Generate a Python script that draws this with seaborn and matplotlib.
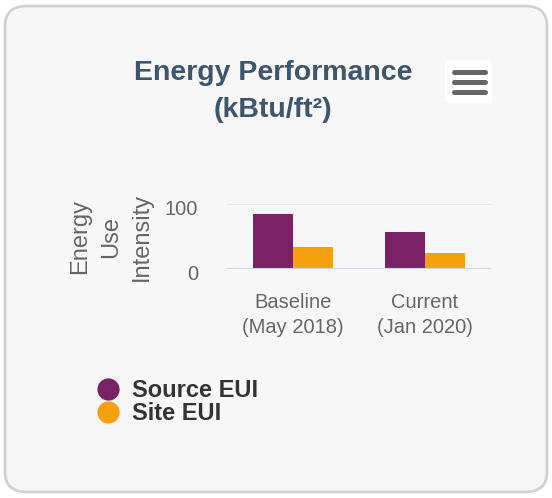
import pandas as pd
import numpy as np
import seaborn as sns
import matplotlib.pyplot as plt
from matplotlib.patches import FancyBboxPatch
from matplotlib.lines import Line2D
from matplotlib.transforms import ScaledTranslation

# data
periods = ["Baseline\n(May 2018)", "Current\n(Jan 2020)"]
source_eui = [86, 58]
site_eui = [34, 26]
series_names = ["Source EUI", "Site EUI"]
series_colors = ["#7a2265", "#f5a00c"]

df = pd.DataFrame({
    "period": periods * 2,
    "eui": source_eui + site_eui,
    "series": [series_names[0]] * 2 + [series_names[1]] * 2,
})

sns.set_style("white")
plt.rcParams["font.family"] = ["Liberation Sans", "DejaVu Sans"]

fig = plt.figure(figsize=(5.52, 4.98), dpi=100)
fig.patch.set_facecolor("white")

# card background
W, H = 552, 498
card = FancyBboxPatch((5 / W, 6 / H), 542 / W, 486 / H,
                      boxstyle="round,pad=0,rounding_size=0.04",
                      transform=fig.transFigure, facecolor="#f7f7f7",
                      edgecolor="#cdd2d5", linewidth=2.0, zorder=-2)
fig.patches.append(card)

# menu button
btn = FancyBboxPatch((445 / W, 1 - 103 / H), 47 / W, 43 / H,
                     boxstyle="round,pad=0,rounding_size=0.008",
                     transform=fig.transFigure, facecolor="white",
                     edgecolor="none", zorder=-1)
fig.patches.append(btn)
for yy in [72, 82, 92]:
    fig.add_artist(Line2D([454 / W, 485 / W], [1 - yy / H, 1 - yy / H],
                          color="#666666", linewidth=3.6,
                          solid_capstyle="round", transform=fig.transFigure))

# title
title_color = "#3d566e"
fig.text(273 / W, 1 - 80 / H, "Energy Performance", ha="center", va="baseline",
         fontsize=20.5, fontweight="bold", color=title_color)
fig.text(273 / W, 1 - 117 / H, "(kBtu/ft²)", ha="center", va="baseline",
         fontsize=20.5, fontweight="bold", color=title_color)

# plot area
ax = fig.add_axes([227.3 / W, 1 - 269.5 / H, 263.4 / W, 65 / H])
ax.set_facecolor("none")
sns.barplot(data=df, x="period", y="eui", hue="series", palette=series_colors,
            width=0.61, ax=ax, legend=False, saturation=1, edgecolor="none")
ax.set_ylim(0, 100)
ax.set_xlim(-0.5, 1.5)
ax.set_yticks([0, 100])
ax.set_yticklabels(["0", "100"])
for s in ax.spines.values():
    s.set_visible(False)
ax.axhline(100, color="#e6e6e6", linewidth=1.2, zorder=0)
ax.axhline(0, color="#ccd6eb", linewidth=1.5, zorder=3)
ax.tick_params(axis="y", length=0, pad=21, labelsize=14.5, labelcolor="#666666")
ax.tick_params(axis="x", length=0, pad=17, labelsize=14.5, labelcolor="#666666")
for lab in ax.get_yticklabels():
    lab.set_transform(lab.get_transform() + ScaledTranslation(0, -3 / 100, fig.dpi_scale_trans))
for lab in ax.get_xticklabels():
    lab.set_linespacing(1.4)
ax.set_xlabel("")
ax.set_ylabel("")

fig.text(111 / W, 1 - 236.5 / H, "Energy\nUse\nIntensity", rotation=90,
         ha="center", va="center", multialignment="center", fontsize=17,
         color="#666666", linespacing=1.5)

# legend
handles = [Line2D([], [], marker="o", linestyle="none", markersize=16,
                  markerfacecolor=c, markeredgecolor="none") for c in series_colors]
fig.legend(handles, series_names, loc="upper left", bbox_to_anchor=(84 / W, 1 - 370 / H),
           frameon=False, handletextpad=0.45, labelspacing=0.0, borderaxespad=0,
           prop={"weight": "bold", "size": 17}, labelcolor="#333333",
           handlelength=1.2)

fig.savefig("out.png", dpi=100)
